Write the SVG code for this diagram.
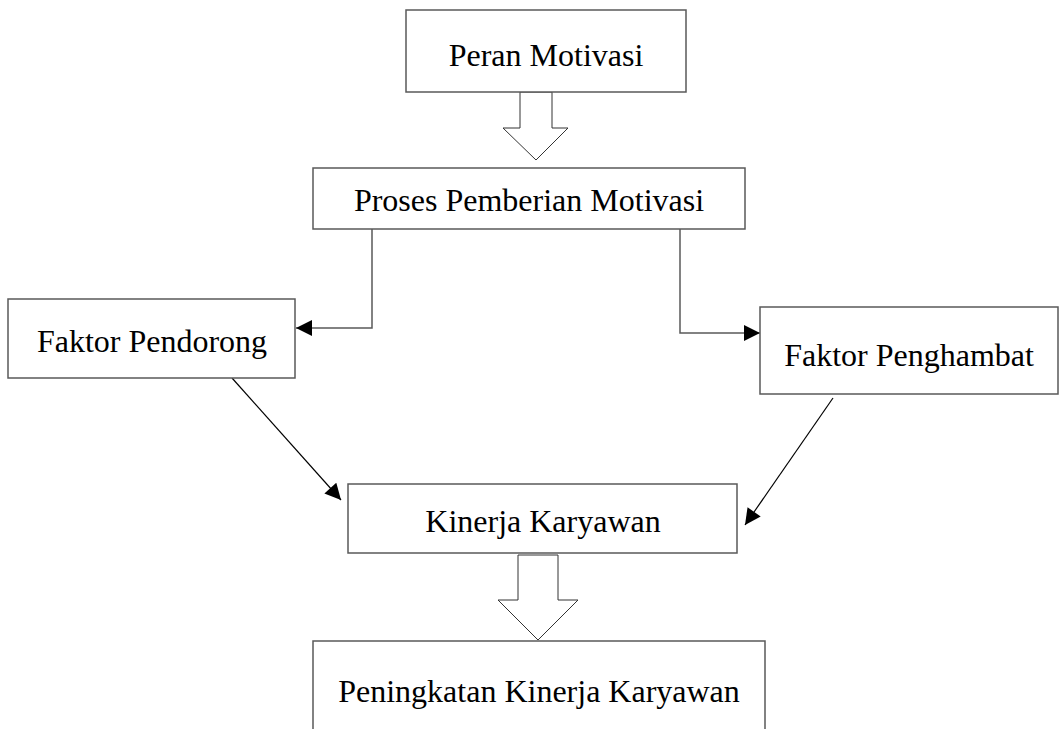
<svg xmlns="http://www.w3.org/2000/svg" width="1059" height="729" viewBox="0 0 1059 729">
<style>
.box{fill:#fff;stroke:#595959;stroke-width:1.5}
.lbl{font-family:"Liberation Serif","Times New Roman",serif;font-size:32px;fill:#000;text-anchor:middle}
.elbow{fill:none;stroke:#595959;stroke-width:1.5}
.diag{fill:none;stroke:#000;stroke-width:1.2}
.block{fill:#fff;stroke:#333;stroke-width:1}
</style>
<defs>
<marker id="ah" viewBox="0 0 10 10" refX="10" refY="5" markerWidth="17" markerHeight="16" markerUnits="userSpaceOnUse" orient="auto">
<path d="M0,0 L10,5 L0,10 Z" fill="#000"/>
</marker>
</defs>
<rect width="1059" height="729" fill="#fff"/>
<g id="connectors">
<path class="block" d="M520,92 L552,92 L552,128 L568,128 L536,160 L503,128 L520,128 Z"/>
<path class="block" d="M518,555 L558,555 L558,600 L578,600 L538,640 L498,600 L518,600 Z"/>
<path class="elbow" d="M372,229 L372,328 L296,328" marker-end="url(#ah)"/>
<path class="elbow" d="M680,229 L680,333 L760,333" marker-end="url(#ah)"/>
<path class="diag" d="M232,378 L341,500" marker-end="url(#ah)"/>
<path class="diag" d="M833,398 L745,525" stroke-width="2" marker-end="url(#ah)"/>
</g>
<g id="peran"><rect class="box" x="406" y="10" width="280" height="82"/><text class="lbl" x="546" y="66">Peran Motivasi</text></g>
<g id="proses"><rect class="box" x="313" y="168" width="432" height="61"/><text class="lbl" x="529" y="211">Proses Pemberian Motivasi</text></g>
<g id="pendorong"><rect class="box" x="8" y="299" width="287" height="79"/><text class="lbl" x="152" y="352">Faktor Pendorong</text></g>
<g id="penghambat"><rect class="box" x="760" y="307" width="298" height="87"/><text class="lbl" x="909" y="366">Faktor Penghambat</text></g>
<g id="kinerja"><rect class="box" x="348" y="484" width="389" height="69"/><text class="lbl" x="543" y="532">Kinerja Karyawan</text></g>
<g id="peningkatan"><rect class="box" x="313" y="641" width="452" height="100"/><text class="lbl" x="539" y="702">Peningkatan Kinerja Karyawan</text></g>
</svg>
